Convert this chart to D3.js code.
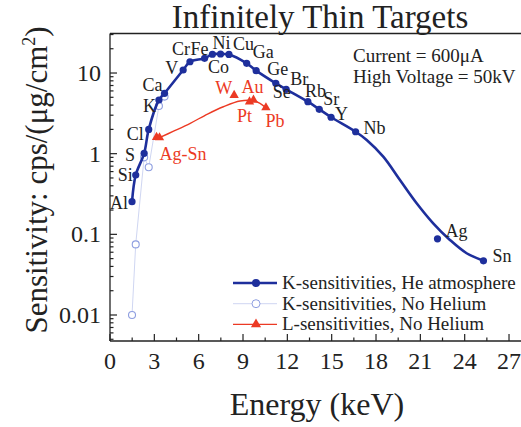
<!DOCTYPE html>
<html>
<head>
<meta charset="utf-8">
<script src="https://cdn.jsdelivr.net/npm/d3@7"></script>
<style>
  body { margin: 0; background: #fff; }
  text { font-family: "Liberation Serif", "Times New Roman", "DejaVu Serif", serif; }
</style>
</head>
<body>
<svg id="chart" width="521" height="427"></svg>
<script>
// K-sensitivities, He atmosphere
var heElems = ["Al","Si","S","Cl","K","Ca","V","Cr","Fe","Co","Ni","Cu","Ga","Ge","Se","Br","Rb","Sr","Y","Nb","Ag","Sn"];
var heEnergy = [1.49,1.74,2.31,2.62,3.31,3.69,4.95,5.41,6.40,6.93,7.48,8.05,9.25,9.89,11.22,11.92,13.39,14.16,14.96,16.62,22.16,25.27];
var heSens = [0.254,0.544,1.01,2.0,4.63,5.6,10.9,13.8,15.2,17.1,17.2,17.0,13.2,10.7,7.45,6.28,4.41,3.55,2.83,1.87,0.088,0.047];

// smooth fit drawn through the He points
var heFitEnergy = [1.49,1.74,2.31,2.62,3.31,3.69,4.95,5.41,6.40,6.93,7.48,8.05,9.25,9.89,11.22,11.92,13.39,14.16,14.96,16.62,17.37,18.49,19.62,20.75,21.87,23.0,24.13,25.27];
var heFitSens = [0.254,0.544,1.01,2.0,4.63,5.6,10.9,13.8,15.2,17.1,17.2,17.0,13.2,10.7,7.45,6.28,4.41,3.55,2.83,1.87,1.48,0.918,0.472,0.243,0.137,0.0853,0.0583,0.047];

// K-sensitivities, no helium
var noHeEnergy = [1.49,1.74,2.31,2.62,3.31,3.69];
var noHeSens = [0.01,0.075,0.9,0.68,3.9,5.1];

// L-sensitivities, no helium
var lElems = ["Ag","Sn","W","Pt","Au","Pb"];
var lEnergy = [3.15,3.35,8.40,9.44,9.71,10.55];
var lSens = [1.6,1.58,5.3,4.41,4.63,3.72];
var lFitEnergy = [3.35,4.3,5.43,6.6,7.67,8.8,9.7,10.15,10.55];
var lFitSens = [1.58,1.9,2.38,3.1,3.82,4.5,4.54,4.21,3.72];

var xTicks = [0,3,6,9,12,15,18,21,24,27];
var yTickLabels = [0.01,0.1,1,10];

// label offsets (px) for element names: [dx, dy, anchor]
var heLabelPos = [[-4,7,"end"],[-3,6,"end"],[-9,8,"end"],[-5,11,"end"],[-3,12,"end"],[-2,-2,"end"],[-5,4,"end"],[0,-7,"end"],[-5,-3,"middle"],[6,19,"middle"],[1,-5,"middle"],[4,-4,"start"],[6,-5,"start"],[11,4,"start"],[-3,15,"start"],[4,-4,"start"],[-3,-5,"start"],[4,-4,"start"],[4,3,"start"],[8,2,"start"],[8,-2,"start"],[9,1,"start"]];
var lLabels = [["Ag-Sn",3.35,1.58,0,22,"start"],["W",8.40,5.3,-2,-1,"end"],["Au",9.71,4.63,-1,-7,"middle"],["Pt",9.44,4.41,-5,20,"middle"],["Pb",10.55,3.72,9,19,"middle"]];

var svg = d3.select("#chart");
var blue = "#1e2f9c", lightBlue = "#8e9ee0", red = "#ec3a24";

var x = d3.scaleLinear().domain([0, 28]).range([110, 523.8]);
var y = d3.scaleLog().domain([0.00476, 30.9]).range([341, 33.5]);

// frame
svg.append("line").attr("x1", 110).attr("x2", 521).attr("y1", 33.5).attr("y2", 33.5)
  .attr("stroke", "#222").attr("stroke-width", 1.3);

// x axis
var xMinor = d3.range(0, 28.1, 1.5);
svg.append("g").selectAll("line").data(xMinor).enter().append("line")
  .attr("x1", function(d){ return x(d); }).attr("x2", function(d){ return x(d); })
  .attr("y1", 341).attr("y2", function(d){ return d % 3 === 0 ? 334 : 337.5; })
  .attr("stroke", "#222").attr("stroke-width", 1.2);
svg.append("line").attr("x1", 110).attr("x2", 521).attr("y1", 341).attr("y2", 341)
  .attr("stroke", "#222").attr("stroke-width", 1.3);
svg.append("g").selectAll("text").data(xTicks).enter().append("text")
  .attr("x", function(d){ return x(d); }).attr("y", 369)
  .attr("text-anchor", "middle").attr("font-size", 24).attr("fill", "#222")
  .text(function(d){ return d; });

// y axis
var yMinor = y.ticks();
svg.append("g").selectAll("line").data(yMinor).enter().append("line")
  .attr("x1", 110).attr("x2", function(d){ return yTickLabels.indexOf(d) >= 0 ? 117 : 113.5; })
  .attr("y1", function(d){ return y(d); }).attr("y2", function(d){ return y(d); })
  .attr("stroke", "#222").attr("stroke-width", 1.2);
svg.append("line").attr("x1", 110).attr("x2", 110).attr("y1", 33.5).attr("y2", 341)
  .attr("stroke", "#222").attr("stroke-width", 1.3);
svg.append("g").selectAll("text").data(yTickLabels).enter().append("text")
  .attr("x", 101).attr("y", function(d){ return y(d) + 8; })
  .attr("text-anchor", "end").attr("font-size", 24).attr("fill", "#222")
  .text(function(d){ return d; });

// titles
svg.append("text").attr("x", 320).attr("y", 28).attr("text-anchor", "middle")
  .attr("font-size", 33).attr("fill", "#222").text("Infinitely Thin Targets");
svg.append("text").attr("x", 317).attr("y", 415).attr("text-anchor", "middle")
  .attr("font-size", 32).attr("fill", "#222").text("Energy (keV)");
var yl = svg.append("text").attr("transform", "translate(47,180) rotate(-90)")
  .attr("text-anchor", "middle").attr("font-size", 31).attr("fill", "#222");
yl.append("tspan").text("Sensitivity: cps/(μg/cm");
yl.append("tspan").attr("font-size", 18).attr("dy", -12).text("2");
yl.append("tspan").attr("dy", 12).text(")");

svg.append("text").attr("x", 353).attr("y", 62).attr("font-size", 19).attr("fill", "#222").text("Current = 600μA");
svg.append("text").attr("x", 353).attr("y", 83).attr("font-size", 19).attr("fill", "#222").text("High Voltage = 50kV");

var line = d3.line().x(function(d){ return x(d[0]); }).y(function(d){ return y(d[1]); });

// no helium series
var noHe = d3.zip(noHeEnergy, noHeSens);
svg.append("path").attr("d", line(noHe)).attr("fill", "none")
  .attr("stroke", "#cfd6f2").attr("stroke-width", 1);
svg.append("g").selectAll("circle").data(noHe).enter().append("circle")
  .attr("cx", function(d){ return x(d[0]); }).attr("cy", function(d){ return y(d[1]); })
  .attr("r", 3.5).attr("fill", "#fff").attr("stroke", lightBlue).attr("stroke-width", 1.1);

// L series
var lFit = d3.zip(lFitEnergy, lFitSens);
svg.append("path").attr("d", line.curve(d3.curveCatmullRom)(lFit)).attr("fill", "none")
  .attr("stroke", red).attr("stroke-width", 1.4);
var tri = d3.symbol().type(d3.symbolTriangle).size(38);
svg.append("g").selectAll("path").data(d3.zip(lEnergy, lSens)).enter().append("path")
  .attr("d", tri).attr("fill", red)
  .attr("transform", function(d){ return "translate(" + x(d[0]) + "," + y(d[1]) + ")"; });

// He series
var heFit = d3.zip(heFitEnergy, heFitSens);
svg.append("path").attr("d", line.curve(d3.curveCatmullRom)(heFit)).attr("fill", "none")
  .attr("stroke", blue).attr("stroke-width", 2.6);
svg.append("g").selectAll("circle").data(d3.zip(heEnergy, heSens)).enter().append("circle")
  .attr("cx", function(d){ return x(d[0]); }).attr("cy", function(d){ return y(d[1]); })
  .attr("r", 3.6).attr("fill", blue);

// element labels
svg.append("g").selectAll("text").data(heElems).enter().append("text")
  .attr("x", function(d, i){ return x(heEnergy[i]) + heLabelPos[i][0]; })
  .attr("y", function(d, i){ return y(heSens[i]) + heLabelPos[i][1]; })
  .attr("text-anchor", function(d, i){ return heLabelPos[i][2]; })
  .attr("font-size", 18).attr("fill", "#222").text(function(d){ return d; });
svg.append("g").selectAll("text").data(lLabels).enter().append("text")
  .attr("x", function(d){ return x(d[1]) + d[3]; })
  .attr("y", function(d){ return y(d[2]) + d[4]; })
  .attr("text-anchor", function(d){ return d[5]; })
  .attr("font-size", 18).attr("fill", red).text(function(d){ return d[0]; });

// legend
var legend = [
  {name: "K-sensitivities, He atmosphere", color: blue, width: 2.6, mark: "dot"},
  {name: "K-sensitivities, No Helium", color: "#cfd6f2", width: 1, mark: "ring"},
  {name: "L-sensitivities, No Helium", color: red, width: 1.4, mark: "tri"}
];
var lg = svg.append("g").selectAll("g").data(legend).enter().append("g")
  .attr("transform", function(d, i){ return "translate(0," + (283 + i * 20.7) + ")"; });
lg.append("line").attr("x1", 233).attr("x2", 277).attr("stroke", function(d){ return d.color; })
  .attr("stroke-width", function(d){ return d.width; });
lg.each(function(d){
  var g = d3.select(this);
  if (d.mark === "dot") g.append("circle").attr("cx", 256).attr("r", 4).attr("fill", blue);
  else if (d.mark === "ring") g.append("circle").attr("cx", 256).attr("r", 4).attr("fill", "#fff").attr("stroke", lightBlue);
  else g.append("path").attr("d", d3.symbol().type(d3.symbolTriangle).size(45)()).attr("transform", "translate(256,0)").attr("fill", red);
});
lg.append("text").attr("x", 282).attr("y", 6).attr("font-size", 19).attr("fill", "#222")
  .text(function(d){ return d.name; });
</script>
</body>
</html>
